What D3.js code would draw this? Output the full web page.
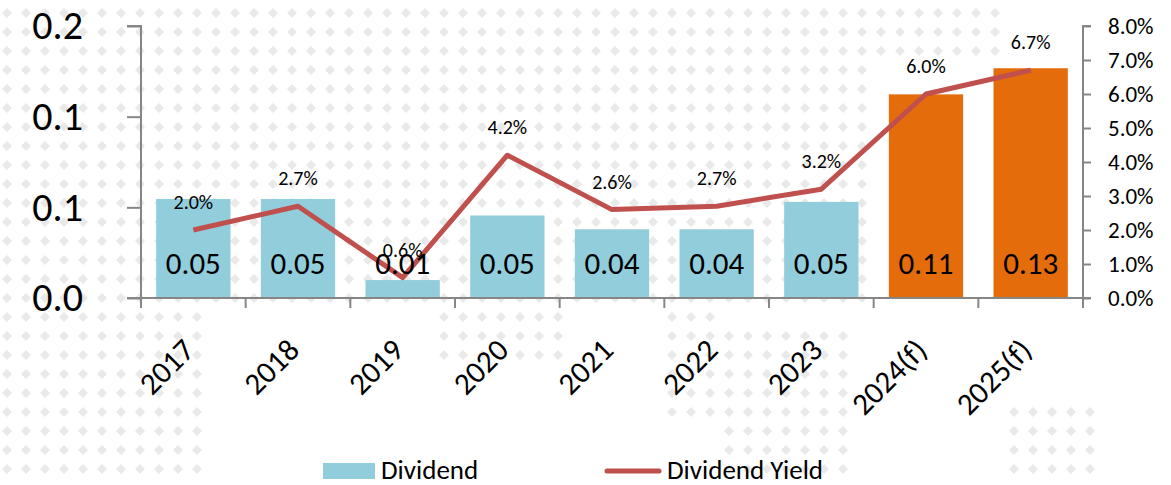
<!DOCTYPE html>
<html>
<head>
<meta charset="utf-8">
<script src="https://cdn.jsdelivr.net/npm/d3@7"></script>
<style>
  html, body { margin: 0; padding: 0; background: #fff; }
  svg { display: block; }
  text { font-family: Carlito, Calibri, Lato, sans-serif; fill: #000; }
</style>
</head>
<body>
<svg id="chart" width="1171" height="485"></svg>
<script>
const categories = ["2017", "2018", "2019", "2020", "2021", "2022", "2023", "2024(f)", "2025(f)"];
const dividend = [0.0546, 0.0546, 0.0099, 0.0455, 0.0379, 0.0379, 0.0530, 0.1123, 0.1267];
const dividendYield = [0.020, 0.027, 0.006, 0.042, 0.026, 0.027, 0.032, 0.060, 0.067];
const forecast = [false, false, false, false, false, false, false, true, true];
const leftTicks = [0, 0.05, 0.10, 0.15];
const rightTicks = [0, 0.01, 0.02, 0.03, 0.04, 0.05, 0.06, 0.07, 0.08];
const seriesNames = ["Dividend", "Dividend Yield"];

const W = 1171, H = 485;
const plot = { left: 141, right: 1083, top: 26, bottom: 298 };
const colBlue = "#92cddc", colOrange = "#e46c0a", colLine = "#c0504d", colAxis = "#868686";

const svg = d3.select("#chart");

// decorative dotted watermark background
const bg = svg.append("g");
const zones = [
  [0, 0, 880, 300], [0, 300, 200, 485], [440, 300, 560, 360],
  [660, 300, 720, 430], [720, 330, 860, 485], [860, 0, 1000, 60], [1000, 410, 1100, 485]
];
const inZone = (x, y) => zones.some(z => x >= z[0] && x <= z[2] && y >= z[1] && y <= z[3]);
const pts = [];
for (let x = 7; x < W; x += 19) for (let y = 13; y < H; y += 19) if (inZone(x, y)) pts.push([x, y]);
bg.selectAll("path").data(pts).join("path")
  .attr("d", d => `M${d[0]},${d[1]-5}L${d[0]+5},${d[1]}L${d[0]},${d[1]+5}L${d[0]-5},${d[1]}Z`)
  .attr("fill", "#e9e9e9");

const x = d3.scaleBand().domain(categories).range([plot.left, plot.right])
  .paddingInner(0.29).paddingOuter(0.145);
const yL = d3.scaleLinear().domain([0, 0.15]).range([plot.bottom, plot.top]);
const yR = d3.scaleLinear().domain([0, 0.08]).range([plot.bottom, plot.top]);

// bars
svg.append("g").selectAll("rect").data(categories).join("rect")
  .attr("x", d => x(d))
  .attr("width", x.bandwidth())
  .attr("y", (d, i) => yL(dividend[i]))
  .attr("height", (d, i) => plot.bottom - yL(dividend[i]))
  .attr("fill", (d, i) => forecast[i] ? colOrange : colBlue);

// left axis (one decimal, rounded half up like the source)
const fmtL = d => (Math.round(d * 10) / 10).toFixed(1);
const axL = svg.append("g").attr("transform", `translate(${plot.left},0)`)
  .call(d3.axisLeft(yL).tickValues(leftTicks).tickFormat(fmtL).tickSize(14).tickPadding(44));
axL.select(".domain").attr("stroke", colAxis).attr("stroke-width", 2).attr("d", `M-14,${plot.top}H0V${plot.bottom}H-14`);
axL.selectAll(".tick line").attr("stroke", colAxis).attr("stroke-width", 2);
axL.selectAll(".tick text").style("font-size", "40px").attr("font-family", null);

// right axis
const axR = svg.append("g").attr("transform", `translate(${plot.right},0)`)
  .call(d3.axisRight(yR).tickValues(rightTicks).tickFormat(d3.format(".1%")).tickSize(8).tickPadding(17));
axR.select(".domain").attr("stroke", colAxis).attr("stroke-width", 2).attr("d", `M8,${plot.top}H0V${plot.bottom}H8`);
axR.selectAll(".tick line").attr("stroke", colAxis).attr("stroke-width", 2);
axR.selectAll(".tick text").style("font-size", "23px").attr("font-family", null);

// bottom axis: line with boundary ticks
const step = x.step();
const bounds = d3.range(categories.length + 1).map(i => plot.left + i * step);
const axB = svg.append("g");
axB.append("line").attr("x1", plot.left).attr("x2", plot.right)
  .attr("y1", plot.bottom).attr("y2", plot.bottom).attr("stroke", colAxis).attr("stroke-width", 2);
axB.selectAll("line.tk").data(bounds).join("line").attr("class", "tk")
  .attr("x1", d => d).attr("x2", d => d).attr("y1", plot.bottom).attr("y2", plot.bottom + 10)
  .attr("stroke", colAxis).attr("stroke-width", 2);
axB.selectAll("text").data(categories).join("text")
  .attr("transform", d => `translate(${x(d) + x.bandwidth() / 2 + 3},${plot.bottom + 54}) rotate(-45)`)
  .attr("text-anchor", "end")
  .style("font-size", "31px")
  .text(d => d);

// line
const line = d3.line().x((d, i) => x(categories[i]) + x.bandwidth() / 2).y(d => yR(d));
svg.append("path").datum(dividendYield)
  .attr("d", line).attr("fill", "none").attr("stroke", colLine)
  .attr("stroke-width", 5).attr("stroke-linejoin", "round");

// line labels
svg.append("g").selectAll("text").data(dividendYield).join("text")
  .attr("x", (d, i) => x(categories[i]) + x.bandwidth() / 2)
  .attr("y", d => yR(d) - 21)
  .attr("text-anchor", "middle")
  .style("font-size", "20px")
  .text(d => d3.format(".1%")(d));

// bar labels
svg.append("g").selectAll("text").data(dividend).join("text")
  .attr("x", (d, i) => x(categories[i]) + x.bandwidth() / 2)
  .attr("y", plot.bottom - 24)
  .attr("text-anchor", "middle")
  .style("font-size", "31px")
  .text(d => d3.format(".2f")(d));

// legend
const lg = svg.append("g");
lg.append("rect").attr("x", 323).attr("y", 463).attr("width", 52).attr("height", 16).attr("fill", colBlue);
lg.append("text").attr("x", 381).attr("y", 479).style("font-size", "27px").text(seriesNames[0]);
lg.append("line").attr("x1", 607).attr("x2", 659).attr("y1", 471).attr("y2", 471)
  .attr("stroke", colLine).attr("stroke-width", 5).attr("stroke-linecap", "round");
lg.append("text").attr("x", 667).attr("y", 479).style("font-size", "27px").text(seriesNames[1]);
</script>
</body>
</html>
